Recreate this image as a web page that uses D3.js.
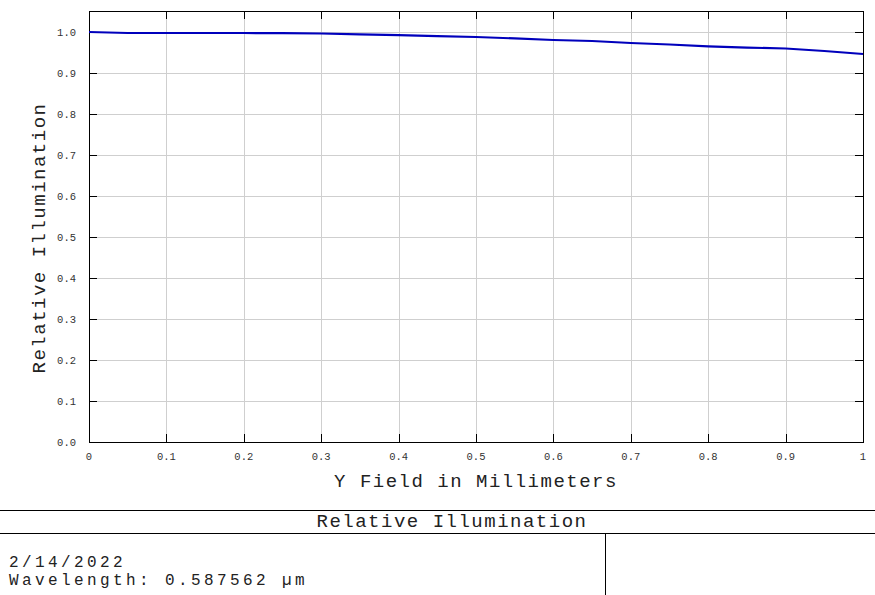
<!DOCTYPE html>
<html>
<head>
<meta charset="utf-8">
<script src="https://cdn.jsdelivr.net/npm/d3@7"></script>
<style>
  body { margin: 0; background: #fff; }
  svg { display: block; }
  .mono { font-family: "Courier New", "Liberation Mono", monospace; fill: #222; }
  .tick-label { font-size: 10.5px; fill: #333; }
  .title { font-size: 19px; letter-spacing: 1.5px; }
  .info { font-size: 16px; letter-spacing: 3.4px; }
</style>
</head>
<body>
<div id="chart"></div>
<script>
const width = 875,
  height = 595,
  plot = { left: 89, right: 863, top: 11, bottom: 442 };

// Y field (mm) and relative illumination
const fieldMm = [0, 0.05, 0.1, 0.15, 0.2, 0.25, 0.3, 0.35, 0.4, 0.45, 0.5,
  0.55, 0.6, 0.65, 0.7, 0.75, 0.8, 0.85, 0.9, 0.95, 1.0];
const illumination = [1.0, 0.9976, 0.9976, 0.9976, 0.9976, 0.9972, 0.9963, 0.9940, 0.9922, 0.9900, 0.9878,
  0.9844, 0.9805, 0.9780, 0.9732, 0.9695, 0.9650, 0.9620, 0.9598, 0.9537, 0.9463];

const xTicks = [0, 0.1, 0.2, 0.3, 0.4, 0.5, 0.6, 0.7, 0.8, 0.9, 1];
const xTickLabels = ["0", "0.1", "0.2", "0.3", "0.4", "0.5", "0.6", "0.7", "0.8", "0.9", "1"];
const yTicks = [0, 0.1, 0.2, 0.3, 0.4, 0.5, 0.6, 0.7, 0.8, 0.9, 1.0];

const xLabel = "Y Field in Millimeters";
const yLabel = "Relative Illumination";
const chartTitle = "Relative Illumination";
const infoLines = ["2/14/2022", "Wavelength: 0.587562 \u00b5m"];

const data = fieldMm.map((x, i) => ({ x: x, y: illumination[i] }));

const svg = d3.select("#chart").append("svg")
  .attr("width", width)
  .attr("height", height);

const xScale = d3.scaleLinear().domain([0, 1]).range([plot.left, plot.right]);
const yScale = d3.scaleLinear().domain([0, 1]).range([plot.bottom, 32]);

// grid
svg.append("g")
  .selectAll("line")
  .data(xTicks.slice(1, -1))
  .join("line")
  .attr("x1", d => Math.round(xScale(d)) + 0.5)
  .attr("x2", d => Math.round(xScale(d)) + 0.5)
  .attr("y1", plot.top)
  .attr("y2", plot.bottom)
  .attr("stroke", "#cfcfcf");

svg.append("g")
  .selectAll("line")
  .data(yTicks.slice(1))
  .join("line")
  .attr("x1", plot.left)
  .attr("x2", plot.right)
  .attr("y1", d => Math.round(yScale(d)) + 0.5)
  .attr("y2", d => Math.round(yScale(d)) + 0.5)
  .attr("stroke", "#cfcfcf");

// inward ticks on all four sides
const tickLen = 8;
const ticks = svg.append("g").attr("stroke", "#000");
xTicks.slice(1, -1).forEach(d => {
  const x = Math.round(xScale(d)) + 0.5;
  ticks.append("line").attr("x1", x).attr("x2", x).attr("y1", plot.bottom).attr("y2", plot.bottom - tickLen);
  ticks.append("line").attr("x1", x).attr("x2", x).attr("y1", plot.top).attr("y2", plot.top + tickLen);
});
yTicks.slice(1).forEach(d => {
  const y = Math.round(yScale(d)) + 0.5;
  ticks.append("line").attr("x1", plot.left).attr("x2", plot.left + tickLen).attr("y1", y).attr("y2", y);
  ticks.append("line").attr("x1", plot.right).attr("x2", plot.right - tickLen).attr("y1", y).attr("y2", y);
});

// frame
svg.append("rect")
  .attr("x", plot.left + 0.5)
  .attr("y", plot.top + 0.5)
  .attr("width", plot.right - plot.left)
  .attr("height", plot.bottom - plot.top)
  .attr("fill", "none")
  .attr("stroke", "#000");

// tick labels
svg.append("g")
  .selectAll("text")
  .data(xTicks)
  .join("text")
  .attr("class", "mono tick-label")
  .attr("x", d => xScale(d))
  .attr("y", 460)
  .attr("text-anchor", "middle")
  .text((d, i) => xTickLabels[i]);

svg.append("g")
  .selectAll("text")
  .data(yTicks)
  .join("text")
  .attr("class", "mono tick-label")
  .attr("x", 76)
  .attr("y", d => yScale(d) + 3.5)
  .attr("text-anchor", "end")
  .text(d => d.toFixed(1));

// curve
const line = d3.line()
  .x(d => xScale(d.x))
  .y(d => yScale(d.y));

svg.append("path")
  .datum(data)
  .attr("d", line)
  .attr("fill", "none")
  .attr("stroke", "#0000bc")
  .attr("stroke-width", 2.2);

// axis titles
svg.append("text")
  .attr("class", "mono title")
  .attr("x", 476)
  .attr("y", 487)
  .attr("text-anchor", "middle")
  .text(xLabel);

svg.append("text")
  .attr("class", "mono title")
  .attr("transform", "translate(45,238) rotate(-90)")
  .attr("text-anchor", "middle")
  .text(yLabel);

// footer box
svg.append("line").attr("x1", 0).attr("x2", width).attr("y1", 510.5).attr("y2", 510.5).attr("stroke", "#000");
svg.append("line").attr("x1", 0).attr("x2", width).attr("y1", 533.5).attr("y2", 533.5).attr("stroke", "#000");
svg.append("line").attr("x1", 605.5).attr("x2", 605.5).attr("y1", 533).attr("y2", height).attr("stroke", "#000");

svg.append("text")
  .attr("class", "mono title")
  .attr("x", 452)
  .attr("y", 527)
  .attr("text-anchor", "middle")
  .text(chartTitle);

svg.append("g")
  .selectAll("text")
  .data(infoLines)
  .join("text")
  .attr("class", "mono info")
  .attr("x", 9)
  .attr("y", (d, i) => 567 + i * 18)
  .text(d => d);
</script>
</body>
</html>
